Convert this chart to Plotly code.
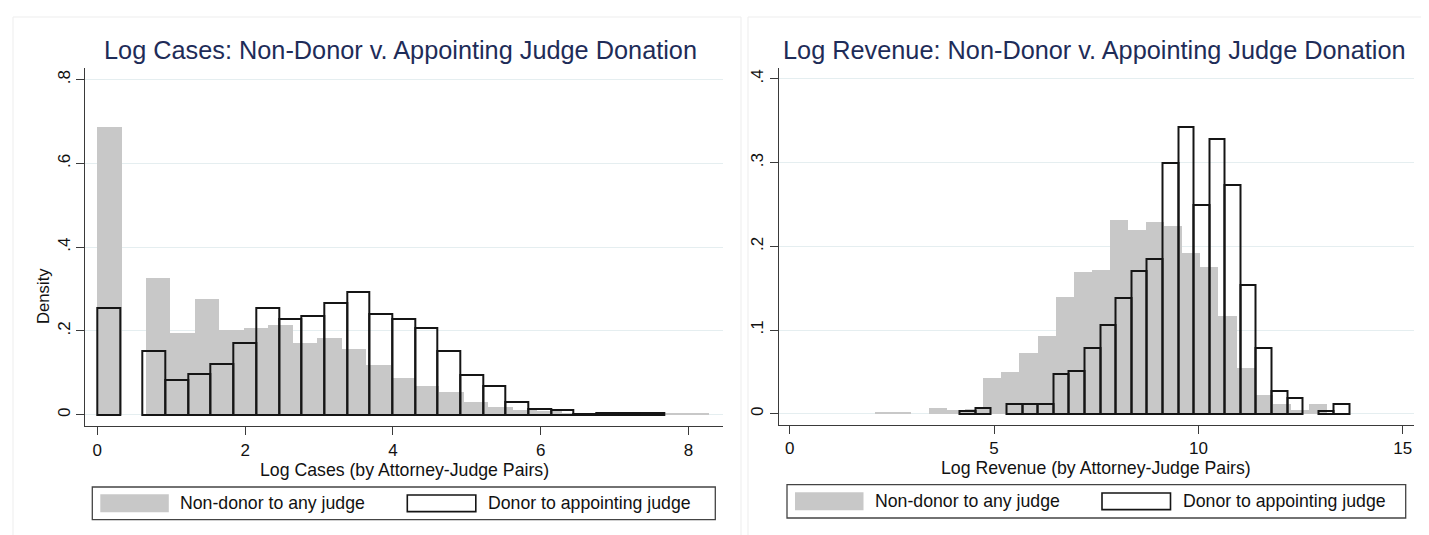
import plotly.graph_objects as go

W, H = 1429, 535

# ---------------- data (densities) ----------------
# Log Cases panel
CASES_NONDONOR_START = 0.0
CASES_NONDONOR_WIDTH = 0.331
CASES_NONDONOR_DENSITY = [0.687, 0.0, 0.326, 0.194, 0.276, 0.202, 0.206, 0.214, 0.171,
                          0.183, 0.156, 0.118, 0.088, 0.068, 0.054, 0.030, 0.018, 0.012,
                          0.008, 0.005, 0.004, 0.003, 0.003, 0.002, 0.003]
CASES_DONOR_START = 0.0
CASES_DONOR_WIDTH = 0.307
CASES_DONOR_DENSITY = [0.256, 0.0, 0.151, 0.082, 0.098, 0.122, 0.172, 0.256, 0.228,
                       0.235, 0.267, 0.294, 0.240, 0.228, 0.208, 0.152, 0.095, 0.069,
                       0.030, 0.013, 0.011, 0.002, 0.003, 0.003, 0.003]

# Log Revenue panel
REV_NONDONOR_START = 2.07
REV_NONDONOR_WIDTH = 0.4425
REV_NONDONOR_DENSITY = [0.002, 0.002, 0.0, 0.007, 0.005, 0.006, 0.043, 0.050, 0.072,
                        0.093, 0.140, 0.169, 0.172, 0.232, 0.219, 0.229, 0.224, 0.192,
                        0.175, 0.117, 0.055, 0.022, 0.011, 0.005, 0.0116]
REV_DONOR_START = 4.16
REV_DONOR_WIDTH = 0.3815
REV_DONOR_DENSITY = [0.003, 0.007, 0.0, 0.011, 0.011, 0.011, 0.047, 0.051, 0.078,
                     0.106, 0.138, 0.170, 0.185, 0.300, 0.343, 0.249, 0.328, 0.273,
                     0.154, 0.078, 0.027, 0.019, 0.0, 0.003, 0.011]

CASES_XTICKS = [0, 2, 4, 6, 8]
CASES_YTICKS = [0, 0.2, 0.4, 0.6, 0.8]
CASES_YTICKTEXT = ["0", ".2", ".4", ".6", ".8"]
REV_XTICKS = [0, 5, 10, 15]
REV_YTICKS = [0, 0.1, 0.2, 0.3, 0.4]
REV_YTICKTEXT = ["0", ".1", ".2", ".3", ".4"]

TITLE_CASES = "Log Cases: Non-Donor v. Appointing Judge Donation"
TITLE_REV = "Log Revenue: Non-Donor v. Appointing Judge Donation"
XTITLE_CASES = "Log Cases (by Attorney-Judge Pairs)"
XTITLE_REV = "Log Revenue (by Attorney-Judge Pairs)"
LEGEND_NONDONOR = "Non-donor to any judge"
LEGEND_DONOR = "Donor to appointing judge"

# ---------------- styling ----------------
FONT = "Liberation Sans, Arial, Helvetica, sans-serif"
GRAY = "#c8c8c8"
OUTLINE = "#151515"
GRID = "#e5eef0"
NAVY = "#1e2c58"
AXIS = "#3a3a3a"
TXT = "#111111"
AX_FS = 17.7
TICK_FS = 17
LEG_FS = 17.7
TITLE_FS = 25.3


def px(x):
    return x / W


def py(y):
    return 1 - y / H


def bars(start, width, dens):
    xs, ys = [], []
    for i, d in enumerate(dens):
        if d > 0:
            xs.append(start + (i + 0.5) * width)
            ys.append(d)
    return xs, ys


fig = go.Figure()

panels = [
    dict(xa="x", ya="y",
         nd=(CASES_NONDONOR_START, CASES_NONDONOR_WIDTH, CASES_NONDONOR_DENSITY),
         dn=(CASES_DONOR_START, CASES_DONOR_WIDTH, CASES_DONOR_DENSITY)),
    dict(xa="x2", ya="y2",
         nd=(REV_NONDONOR_START, REV_NONDONOR_WIDTH, REV_NONDONOR_DENSITY),
         dn=(REV_DONOR_START, REV_DONOR_WIDTH, REV_DONOR_DENSITY)),
]

for p in panels:
    xs, ys = bars(*p["nd"])
    fig.add_trace(go.Bar(x=xs, y=ys, width=p["nd"][1], xaxis=p["xa"], yaxis=p["ya"],
                         marker=dict(color=GRAY, line=dict(width=0)),
                         showlegend=False, hoverinfo="skip"))
    xs, ys = bars(*p["dn"])
    fig.add_trace(go.Bar(x=xs, y=ys, width=p["dn"][1], xaxis=p["xa"], yaxis=p["ya"],
                         marker=dict(color="rgba(0,0,0,0)", line=dict(width=2, color=OUTLINE)),
                         showlegend=False, hoverinfo="skip"))

# plot-region pixel geometry
L = dict(x0=77.3, x1=715.0, y0=60.0, y1=418.3)
R = dict(x0=770.5, x1=1405.7, y0=60.0, y1=416.7)

axis_common = dict(showline=True, linecolor=AXIS, linewidth=1, ticks="outside",
                   ticklen=8, tickcolor=AXIS, tickwidth=1, zeroline=False,
                   tickfont=dict(family=FONT, size=TICK_FS, color=TXT))

fig.update_layout(
    width=W, height=H, margin=dict(l=0, r=0, t=0, b=0),
    paper_bgcolor="white", plot_bgcolor="white", barmode="overlay", bargap=0,
    showlegend=False,
    xaxis=dict(domain=[px(L["x0"]), px(L["x1"])], range=[-0.163, 8.467],
               tickvals=CASES_XTICKS, showgrid=False, anchor="y", **axis_common),
    yaxis=dict(domain=[py(L["y1"]), py(L["y0"])], range=[-0.0277, 0.828],
               tickvals=CASES_YTICKS, ticktext=CASES_YTICKTEXT, tickangle=-90,
               showgrid=True, gridcolor=GRID, gridwidth=1, anchor="x", **axis_common),
    xaxis2=dict(domain=[px(R["x0"]), px(R["x1"])], range=[-0.274, 15.268],
                tickvals=REV_XTICKS, showgrid=False, anchor="y2", **axis_common),
    yaxis2=dict(domain=[py(R["y1"]), py(R["y0"])], range=[-0.01315, 0.4131],
                tickvals=REV_YTICKS, ticktext=REV_YTICKTEXT, tickangle=-90,
                showgrid=True, gridcolor=GRID, gridwidth=1, anchor="x2", **axis_common),
)

shapes = []
annotations = []

# faint panel borders
for bx0, bx1 in [(5, 733), (740, 1424)]:
    shapes.append(dict(type="rect", xref="paper", yref="paper",
                       x0=px(bx0), x1=px(bx1), y0=py(560), y1=py(9),
                       line=dict(color="#ededed", width=1), fillcolor="rgba(0,0,0,0)",
                       layer="below"))

# titles
annotations.append(dict(text=TITLE_CASES, x=px(94), y=py(42.5), xref="paper", yref="paper",
                        showarrow=False, xanchor="left", yanchor="middle",
                        font=dict(family=FONT, size=TITLE_FS, color=NAVY)))
annotations.append(dict(text=TITLE_REV, x=px(773), y=py(42.5), xref="paper", yref="paper",
                        showarrow=False, xanchor="left", yanchor="middle",
                        font=dict(family=FONT, size=TITLE_FS, color=NAVY)))
# x titles
annotations.append(dict(text=XTITLE_CASES, x=px((L["x0"] + L["x1"]) / 2), y=py(462),
                        xref="paper", yref="paper", showarrow=False,
                        xanchor="center", yanchor="middle",
                        font=dict(family=FONT, size=AX_FS, color=TXT)))
annotations.append(dict(text=XTITLE_REV, x=px((R["x0"] + R["x1"]) / 2), y=py(460),
                        xref="paper", yref="paper", showarrow=False,
                        xanchor="center", yanchor="middle",
                        font=dict(family=FONT, size=AX_FS, color=TXT)))
# y title (left only)
annotations.append(dict(text="Density", x=px(35), y=py(288), xref="paper", yref="paper",
                        showarrow=False, textangle=-90, xanchor="center", yanchor="middle",
                        font=dict(family=FONT, size=AX_FS - 1, color=TXT)))

# legends
for box in [dict(x0=84.3, x1=707.3, y0=479, y1=511.7), dict(x0=779, x1=1397.7, y0=476.7, y1=510)]:
    shapes.append(dict(type="rect", xref="paper", yref="paper",
                       x0=px(box["x0"]), x1=px(box["x1"]), y0=py(box["y1"]), y1=py(box["y0"]),
                       line=dict(color="#444444", width=1.3), fillcolor="white"))
    cy = (box["y0"] + box["y1"]) / 2
    gx0 = box["x0"] + 8
    shapes.append(dict(type="rect", xref="paper", yref="paper",
                       x0=px(gx0), x1=px(gx0 + 68.5), y0=py(cy + 9), y1=py(cy - 9),
                       line=dict(width=0), fillcolor=GRAY))
    annotations.append(dict(text=LEGEND_NONDONOR, x=px(gx0 + 78), y=py(cy), xref="paper",
                            yref="paper", showarrow=False, xanchor="left", yanchor="middle",
                            font=dict(family=FONT, size=LEG_FS, color=TXT)))
    dx0 = box["x0"] + 315
    shapes.append(dict(type="rect", xref="paper", yref="paper",
                       x0=px(dx0), x1=px(dx0 + 68.5), y0=py(cy + 8.3), y1=py(cy - 8.3),
                       line=dict(width=1.6, color=OUTLINE), fillcolor="white"))
    annotations.append(dict(text=LEGEND_DONOR, x=px(dx0 + 79), y=py(cy), xref="paper",
                            yref="paper", showarrow=False, xanchor="left", yanchor="middle",
                            font=dict(family=FONT, size=LEG_FS, color=TXT)))

fig.update_layout(shapes=shapes, annotations=annotations)
fig.write_html("out.html")
